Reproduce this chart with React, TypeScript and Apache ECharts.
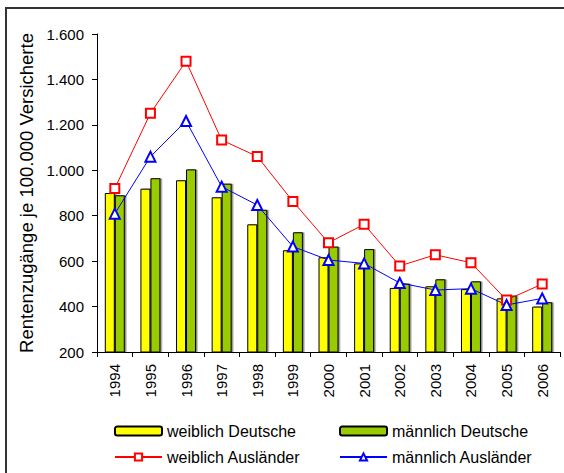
import React, { useEffect, useRef } from "react";
import * as echarts from "echarts";

const years = ["1994", "1995", "1996", "1997", "1998", "1999", "2000", "2001", "2002", "2003", "2004", "2005", "2006"];
const weiblichDeutsche = [900, 919, 956, 881, 762, 648, 617, 590, 482, 489, 477, 436, 400];
const maennlichDeutsche = [890, 965, 1004, 941, 826, 727, 664, 653, 501, 520, 511, 448, 419];
const weiblichAuslaender = [920, 1251, 1480, 1133, 1061, 863, 681, 762, 579, 628, 593, 429, 499];
const maennlichAuslaender = [809, 1060, 1217, 928, 847, 664, 605, 590, 504, 473, 479, 407, 436];

const yMin = 200;
const yMax = 1600;
const yStep = 200;
const yName = "Rentenzugänge je 100.000 Versicherte";

const FONT = "'Liberation Sans', Arial, sans-serif";

function fmt(v: number): string {
  return String(v).replace(/\B(?=(\d{3})+(?!\d))/g, ".");
}

export default function App() {
  const ref = useRef<HTMLDivElement>(null);
  useEffect(() => {
    if (!ref.current) return;
    const chart = echarts.init(ref.current, undefined, { renderer: "svg" });
    const barShadow = {
      shadowColor: "rgba(0,0,0,0.45)",
      shadowOffsetX: 1.5,
      shadowOffsetY: 0,
      shadowBlur: 0,
    };
    chart.setOption({
      animation: false,
      backgroundColor: "#ffffff",
      textStyle: { fontFamily: FONT },
      graphic: [
        {
          type: "rect",
          shape: { x: 6, y: 8, width: 800, height: 800 },
          style: { fill: "none", stroke: "#333333", lineWidth: 2 },
          silent: true,
          z: -1,
        },
      ],
      grid: { left: 97, top: 34, right: 4, bottom: 121, containLabel: false },
      legend: [
        {
          data: ["weiblich Deutsche", "weiblich Ausländer"],
          orient: "vertical",
          left: 114,
          top: 423,
          padding: 0,
          itemWidth: 47,
          itemHeight: 9,
          itemGap: 10,
          selectedMode: false,
          textStyle: { fontSize: 16, color: "#000", fontFamily: FONT, lineHeight: 16 },
        },
        {
          data: ["männlich Deutsche", "männlich Ausländer"],
          orient: "vertical",
          left: 339,
          top: 423,
          padding: 0,
          itemWidth: 47,
          itemHeight: 9,
          itemGap: 10,
          selectedMode: false,
          textStyle: { fontSize: 16, color: "#000", fontFamily: FONT, lineHeight: 16 },
        },
      ],
      xAxis: {
        type: "category",
        data: years,
        boundaryGap: true,
        axisLine: { lineStyle: { color: "#000", width: 1 } },
        axisTick: { show: true, length: 5, alignWithLabel: false, lineStyle: { color: "#000" } },
        axisLabel: { rotate: 90, margin: 12, fontSize: 15, color: "#000", fontFamily: FONT, interval: 0 },
        splitLine: { show: false },
      },
      yAxis: {
        type: "value",
        min: yMin,
        max: yMax,
        interval: yStep,
        name: yName,
        nameLocation: "middle",
        nameGap: 47,
        nameTextStyle: { fontSize: 18.5, color: "#000", fontFamily: FONT },
        axisLine: { show: true, lineStyle: { color: "#000", width: 1 } },
        axisTick: { show: true, length: 5, lineStyle: { color: "#000" } },
        axisLabel: { margin: 13, fontSize: 15, color: "#000", fontFamily: FONT, formatter: (v: number) => fmt(v) },
        splitLine: { show: false },
      },
      series: [
        {
          name: "weiblich Deutsche",
          type: "bar",
          data: weiblichDeutsche,
          barWidth: 10,
          barGap: "0%",
          itemStyle: { color: "#FFFF00", borderColor: "#000", borderWidth: 1, ...barShadow },
        },
        {
          name: "männlich Deutsche",
          type: "bar",
          data: maennlichDeutsche,
          barWidth: 10,
          barGap: "0%",
          itemStyle: { color: "#99CC00", borderColor: "#000", borderWidth: 1, ...barShadow },
        },
        {
          name: "weiblich Ausländer",
          type: "line",
          data: weiblichAuslaender,
          symbol: "rect",
          symbolSize: 9,
          lineStyle: { color: "#FF0000", width: 1 },
          itemStyle: { color: "#FFFFFF", borderColor: "#FF0000", borderWidth: 2 },
          z: 5,
        },
        {
          name: "männlich Ausländer",
          type: "line",
          data: maennlichAuslaender,
          symbol: "triangle",
          symbolSize: 10,
          lineStyle: { color: "#0000FF", width: 1 },
          itemStyle: { color: "#FFFFFF", borderColor: "#0000FF", borderWidth: 2 },
          z: 5,
        },
      ],
    });
    return () => chart.dispose();
  }, []);
  return (
    <div
      ref={ref}
      style={{ position: "absolute", left: 0, top: 0, width: 564, height: 473 }}
    />
  );
}
